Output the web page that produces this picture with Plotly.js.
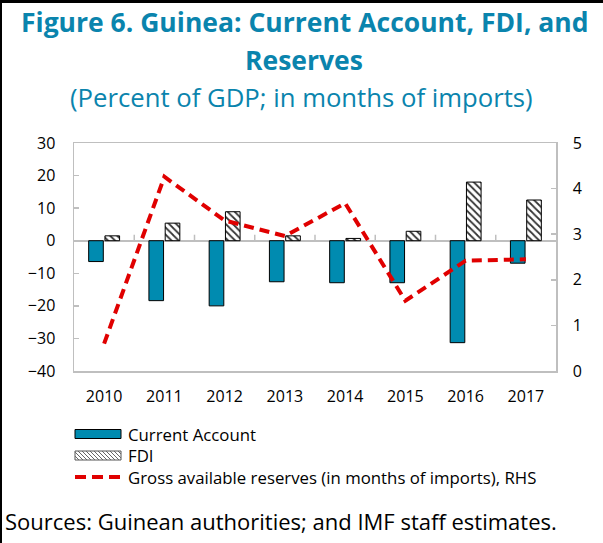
<!DOCTYPE html>
<html>
<head>
<meta charset="utf-8">
<script src="https://cdn.plot.ly/plotly-3.0.1.min.js"></script>
<style>html,body{margin:0;padding:0;background:#fff;}#chart{width:603px;height:543px;}</style>
</head>
<body>
<div id="chart"></div>
<script>
const years = ["2010","2011","2012","2013","2014","2015","2016","2017"];
const currentAccount = [-6.4, -18.4, -20.0, -12.6, -12.9, -12.9, -31.3, -6.9];
const fdi = [1.5, 5.4, 8.9, 1.5, 0.7, 2.9, 18.0, 12.5];
const reserves = [0.6, 4.26, 3.3, 2.96, 3.68, 1.54, 2.42, 2.45];
const leftTicks = [-40, -30, -20, -10, 0, 10, 20, 30];
const rightTicks = [0, 1, 2, 3, 4, 5];
const seriesNames = ["Current Account", "FDI", "Gross available reserves (in months of imports), RHS"];

const W = 603, H = 543;
const L = 74, R = 47, T = 143, B = 172;
const pw = W - L - R, ph = H - T - B;
const px = x => (x - L) / pw;
const py = y => (H - B - y) / ph;

const teal = "#0a84ad";
const gray = "#bfbfbf";
const font = "Open Sans, sans-serif";
const caColor = "#008bb0";
const lineColor = "#e00000";

const traces = [
  {type: "bar", x: years, y: currentAccount, name: seriesNames[0], showlegend: false,
   marker: {color: caColor, line: {color: "#000", width: 1}}},
  {type: "bar", x: years, y: fdi, name: seriesNames[1], showlegend: false,
   marker: {color: "#fff", line: {color: "#000", width: 1},
            pattern: {shape: "\\", fgcolor: "#333", bgcolor: "#fff", size: 5, solidity: 0.35}}},
  {type: "scatter", mode: "lines", x: years, y: reserves, yaxis: "y2", showlegend: false,
   name: seriesNames[2],
   line: {color: lineColor, width: 4, dash: "10px,6px"}}
];

const yMin = leftTicks[0], yMax = leftTicks[leftTicks.length - 1];
const tickLenUnits = 6 * (yMax - yMin) / ph;
const shapes = [];
for (let i = 0; i < years.length - 1; i++) {
  shapes.push({type: "line", xref: "x", yref: "y", x0: i + 0.5, x1: i + 0.5, y0: 0, y1: tickLenUnits,
               line: {color: gray, width: 1.5}});
}
// outer frame (left and top)
shapes.push({type: "line", xref: "paper", yref: "paper", x0: px(1), x1: px(1), y0: py(0), y1: py(H), line: {color: "#000", width: 2}});
shapes.push({type: "line", xref: "paper", yref: "paper", x0: px(0), x1: px(W), y0: py(1.5), y1: py(1.5), line: {color: "#000", width: 3}});

// manual legend
const lgX0 = 75, lgX1 = 121, lgTextX = 126;
const lgRows = [434, 455.5, 477];
const sh = 9;
shapes.push({type: "rect", xref: "paper", yref: "paper", x0: px(lgX0), x1: px(lgX1),
             y0: py(lgRows[0] - sh / 2), y1: py(lgRows[0] + sh / 2), fillcolor: caColor, line: {color: "#000", width: 1}});
shapes.push({type: "rect", xref: "paper", yref: "paper", x0: px(lgX0), x1: px(lgX1),
             y0: py(lgRows[1] - sh / 2), y1: py(lgRows[1] + sh / 2), fillcolor: "#fff", line: {color: "#555", width: 1}});
{
  const top = lgRows[1] - sh / 2, bot = lgRows[1] + sh / 2, h = bot - top;
  let p = "";
  for (let k = lgX0 - h; k < lgX1; k += 4) {
    const t0 = Math.max(0, (lgX0 - k) / h), t1 = Math.min(1, (lgX1 - k) / h);
    if (t1 <= t0) continue;
    p += `M${px(k + t0 * h)},${py(top + t0 * h)}L${px(k + t1 * h)},${py(top + t1 * h)}`;
  }
  shapes.push({type: "path", xref: "paper", yref: "paper", path: p, line: {color: "#666", width: 1}});
}
shapes.push({type: "line", xref: "paper", yref: "paper", x0: px(lgX0), x1: px(lgX1),
             y0: py(lgRows[2]), y1: py(lgRows[2]), line: {color: lineColor, width: 4, dash: "11px,6px"}});

const annotations = [
  {text: "<b>Figure 6. Guinea: Current Account, FDI, and</b>", x: px(305), y: py(22), xref: "paper", yref: "paper",
   showarrow: false, xanchor: "center", yanchor: "middle", font: {family: font, size: 26.5, color: teal}},
  {text: "<b>Reserves</b>", x: px(304), y: py(60), xref: "paper", yref: "paper",
   showarrow: false, xanchor: "center", yanchor: "middle", font: {family: font, size: 26.5, color: teal}},
  {text: "(Percent of GDP; in months of imports)", x: px(301), y: py(98), xref: "paper", yref: "paper",
   showarrow: false, xanchor: "center", yanchor: "middle", font: {family: font, size: 25.7, color: teal}},
  {text: "Sources: Guinean authorities; and IMF staff estimates.", x: px(3), y: py(521), xref: "paper", yref: "paper",
   showarrow: false, xanchor: "left", yanchor: "middle", font: {family: font, size: 22, color: "#000"}}
];
seriesNames.forEach((n, i) => {
  annotations.push({text: n, x: px(lgTextX), y: py(lgRows[i]), xref: "paper", yref: "paper",
    showarrow: false, xanchor: "left", yanchor: "middle", font: {family: font, size: 16.8, color: "#000"}});
});

const layout = {
  width: W, height: H,
  margin: {l: L, r: R, t: T, b: B, pad: 0},
  paper_bgcolor: "#fff", plot_bgcolor: "#fff",
  font: {family: font, size: 15, color: "#000"},
  barmode: "group", bargap: 0.46, bargroupgap: 0.1,
  showlegend: false,
  xaxis: {type: "category", showline: true, linecolor: gray, linewidth: 1.5, mirror: true,
          ticks: "", showgrid: false, ticklabelstandoff: 10, tickfont: {size: 16}},
  yaxis: {range: [yMin, yMax], tickvals: leftTicks, showline: true, linecolor: gray, linewidth: 1.5,
          ticks: "inside", ticklen: 5, tickcolor: gray, tickwidth: 1.5, showgrid: false,
          zeroline: true, zerolinecolor: gray, zerolinewidth: 2, ticklabelstandoff: 14, tickfont: {size: 16}},
  yaxis2: {range: [0, 5], tickvals: rightTicks, overlaying: "y", side: "right", showline: true, linecolor: gray, linewidth: 1.5,
           ticks: "inside", ticklen: 5, tickcolor: gray, tickwidth: 1.5, showgrid: false, zeroline: false,
           ticklabelstandoff: 12, tickfont: {size: 16}},
  shapes: shapes,
  annotations: annotations
};

Plotly.newPlot("chart", traces, layout, {displayModeBar: false, staticPlot: true});
</script>
</body>
</html>
